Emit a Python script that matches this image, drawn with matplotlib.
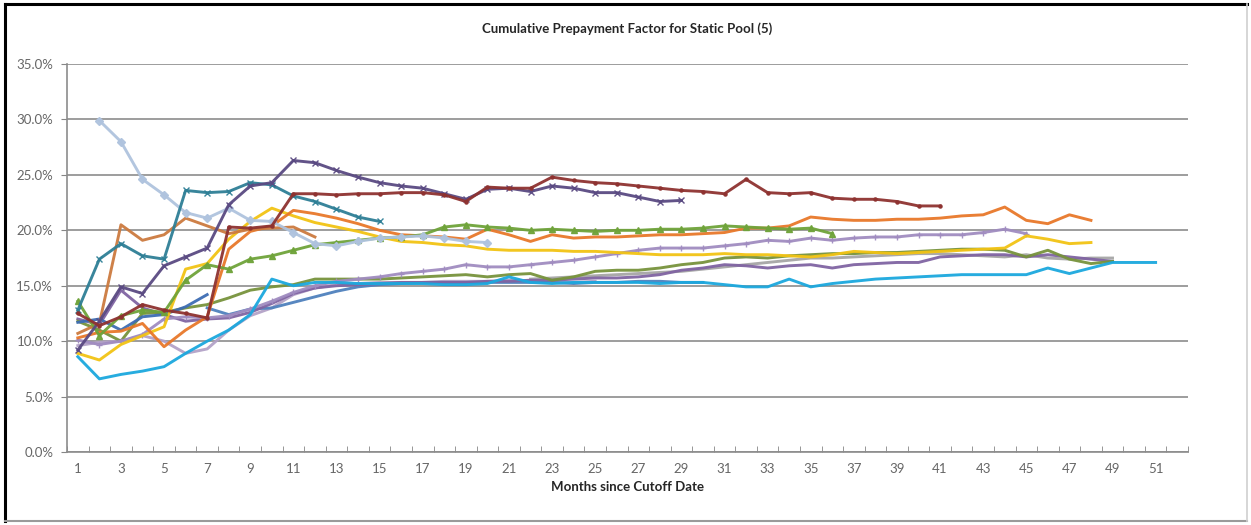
import numpy as np
import matplotlib.pyplot as plt
from matplotlib.patches import Rectangle
from matplotlib.ticker import FuncFormatter

# %% data: cumulative prepayment factor (%) by month since cutoff, one list per static pool
# each list starts at month 1 unless noted in the start dict
darkred = [12.5, 11.4, 12.2, 13.3, 12.8, 12.5, 12.1, 20.3, 20.2, 20.4, 23.3, 23.3, 23.2, 23.3, 23.3,
           23.4, 23.4, 23.2, 22.6, 23.9, 23.8, 23.8, 24.8, 24.5, 24.3, 24.2, 24.0, 23.8, 23.6, 23.5,
           23.3, 24.6, 23.4, 23.3, 23.4, 22.9, 22.8, 22.8, 22.6, 22.2, 22.2]
indigo = [9.2, 11.8, 14.9, 14.3, 16.8, 17.6, 18.4, 22.3, 24.0, 24.3, 26.3, 26.1, 25.4, 24.8, 24.3,
          24.0, 23.8, 23.3, 22.8, 23.7, 23.8, 23.5, 24.0, 23.8, 23.4, 23.4, 23.0, 22.6, 22.7]
teal = [12.8, 17.4, 18.8, 17.7, 17.4, 23.6, 23.4, 23.5, 24.3, 24.1, 23.1, 22.6, 21.9, 21.2, 20.8]
ltblue = [29.9, 28.0, 24.6, 23.2, 21.6, 21.1, 22.0, 20.9, 20.8, 19.8, 18.8, 18.6, 19.0, 19.3,
          19.4, 19.5, 19.3, 19.0, 18.9]
tan = [10.7, 11.6, 20.5, 19.1, 19.6, 21.1, 20.4, 19.7, 20.1, 20.2, 20.3, 19.4]
orange = [10.3, 10.8, 10.9, 11.6, 9.5, 11.0, 12.2, 18.3, 19.9, 20.4, 21.8, 21.5, 21.1, 20.6, 20.0,
          19.6, 19.5, 19.4, 19.2, 20.1, 19.6, 19.0, 19.6, 19.3, 19.4, 19.4, 19.5, 19.6, 19.6, 19.7,
          19.8, 20.2, 20.2, 20.4, 21.2, 21.0, 20.9, 20.9, 21.0, 21.0, 21.1, 21.3, 21.4, 22.1, 20.9,
          20.6, 21.4, 20.9]
yellow = [8.9, 8.3, 9.7, 10.5, 11.3, 16.5, 17.0, 19.2, 20.8, 22.0, 21.3, 20.7, 20.3, 19.9, 19.4,
          19.0, 18.9, 18.7, 18.6, 18.3, 18.2, 18.2, 18.2, 18.1, 18.1, 18.0, 17.9, 17.8, 17.8, 17.8,
          17.9, 17.8, 17.8, 17.7, 17.6, 17.8, 18.1, 18.0, 17.9, 18.0, 18.1, 18.2, 18.3, 18.4, 19.5,
          19.2, 18.8, 18.9]
green = [13.6, 10.5, 12.3, 12.8, 12.6, 15.5, 16.9, 16.5, 17.4, 17.7, 18.2, 18.7, 18.9, 19.1, 19.3,
         19.4, 19.6, 20.3, 20.5, 20.3, 20.2, 20.0, 20.1, 20.0, 19.9, 20.0, 20.0, 20.1, 20.1, 20.2,
         20.4, 20.3, 20.2, 20.1, 20.2, 19.7]
olive = [11.8, 11.0, 10.0, 12.5, 12.6, 13.0, 13.3, 13.9, 14.6, 14.9, 15.1, 15.6, 15.6, 15.6, 15.6,
         15.7, 15.8, 15.9, 16.0, 15.8, 16.0, 16.1, 15.5, 15.8, 16.3, 16.4, 16.4, 16.6, 16.9, 17.1,
         17.5, 17.6, 17.5, 17.7, 17.8, 17.9, 17.9, 18.0, 18.0, 18.1, 18.2, 18.3, 18.3, 18.2, 17.6,
         18.2, 17.4, 17.0, 17.2]
purple = [10.1, 9.7, 10.0, 10.6, 12.0, 12.2, 12.1, 12.3, 12.9, 13.6, 14.4, 15.0, 15.4, 15.6, 15.8,
          16.1, 16.3, 16.5, 16.9, 16.7, 16.7, 16.9, 17.1, 17.3, 17.6, 17.9, 18.2, 18.4, 18.4, 18.4,
          18.6, 18.8, 19.1, 19.0, 19.3, 19.1, 19.3, 19.4, 19.4, 19.6, 19.6, 19.6, 19.8, 20.1, 19.7]
violet = [12.0, 11.5, 14.6, 13.0, 12.4, 11.8, 12.0, 12.1, 12.6, 13.4, 14.3, 14.8, 15.0, 15.1, 15.2,
          15.3, 15.3, 15.3, 15.3, 15.4, 15.4, 15.5, 15.5, 15.6, 15.7, 15.7, 15.8, 16.0, 16.4, 16.6,
          16.9, 16.8, 16.6, 16.8, 16.9, 16.6, 16.9, 17.0, 17.1, 17.1, 17.6, 17.7, 17.8, 17.8, 17.6,
          17.8, 17.6, 17.4, 17.2]
lavender = [9.6, 9.9, 10.0, 10.5, 10.0, 8.9, 9.3, 11.0, 12.3, 13.0, 14.2, 14.8, 15.1, 15.2, 15.3,
            15.3, 15.3, 15.4, 15.4, 15.4, 15.5, 15.4, 15.3, 15.3, 15.4]
grey = [15.6, 15.7, 15.8, 15.9, 16.0, 16.1, 16.2, 16.3, 16.5, 16.7, 16.9, 17.1, 17.3, 17.5, 17.5,
        17.6, 17.7, 17.8, 17.9, 17.9, 17.8, 17.7, 17.6, 17.8, 17.5, 17.4, 17.5, 17.5]
steel = [11.7, 12.0, 11.0, 12.2, 12.4, 13.1, 14.2]
blue = [13.0, 12.4, 12.9, 13.0, 13.5, 14.0, 14.5, 14.9, 15.1, 15.2, 15.3, 15.3, 15.3, 15.3, 15.3,
        15.3, 15.3, 15.2, 15.3, 15.3, 15.4, 15.4, 15.3, 15.3]
cyan = [8.6, 6.6, 7.0, 7.3, 7.7, 8.9, 10.0, 11.0, 12.4, 15.6, 15.0, 15.3, 15.3, 15.2, 15.2,
        15.2, 15.2, 15.1, 15.1, 15.2, 15.8, 15.3, 15.2, 15.3, 15.3, 15.3, 15.3, 15.2, 15.3, 15.3,
        15.1, 14.9, 14.9, 15.6, 14.9, 15.2, 15.4, 15.6, 15.7, 15.8, 15.9, 16.0, 16.0, 16.0, 16.0,
        16.6, 16.1, 16.6, 17.1, 17.1, 17.1]

start = {'ltblue': 2, 'grey': 22, 'blue': 7}

pools = [
    ('grey', grey, '#A6A6A6', None),
    ('lavender', lavender, '#B3A2C7', None),
    ('blue', blue, '#4F81BD', None),
    ('violet', violet, '#8064A2', None),
    ('olive', olive, '#77933C', None),
    ('purple', purple, '#A08CC0', '+'),
    ('cyan', cyan, '#1BA8DE', None),
    ('steel', steel, '#3D6CB3', None),
    ('yellow', yellow, '#F2C314', None),
    ('orange', orange, '#E8782A', None),
    ('tan', tan, '#CC7A3F', None),
    ('green', green, '#6FA33A', '^'),
    ('ltblue', ltblue, '#AFC3DE', 'D'),
    ('teal', teal, '#2E7F96', 'x'),
    ('indigo', indigo, '#5A4A82', 'x'),
    ('darkred', darkred, '#8E3230', '.'),
]

# %% chart
plt.rcParams['font.family'] = ['Lato', 'DejaVu Sans']
fig = plt.figure(figsize=(12.51, 5.25), dpi=100)
ax = fig.add_axes([0.0536, 0.139, 0.896, 0.739])

for name, vals, col, mk in pools:
    s = start.get(name, 1)
    x = np.arange(s, s + len(vals))
    ax.plot(x, vals, color=col, lw=2.1, marker=mk, markersize=4 if mk != '.' else 4.5,
            markeredgewidth=1.0, solid_joinstyle='round', alpha=0.95)

ax.set_xlim(0.5, 52.5)
ax.set_ylim(0, 35)
ax.set_yticks(np.arange(0, 36, 5))
ax.yaxis.set_major_formatter(FuncFormatter(lambda v, p: f'{v:.1f}%'))
ax.set_xticks(np.arange(1, 52, 2))
ax.set_xticks(np.arange(0.5, 53, 1), minor=True)
ax.tick_params(axis='x', which='major', length=0, pad=8, labelsize=9.5, colors='#666666')
ax.tick_params(axis='x', which='minor', length=4, color='#868686', direction='in')
ax.tick_params(axis='y', length=4, color='#868686', labelsize=9.5, colors='#666666', pad=6)
ax.grid(axis='y', color='#8C8C8C', lw=1.2)
ax.set_axisbelow(True)
for sp in ['top', 'right']:
    ax.spines[sp].set_visible(False)
for sp in ['left', 'bottom']:
    ax.spines[sp].set_color('#8C8C8C')
    ax.spines[sp].set_linewidth(1.2)

ax.set_xlabel('Months since Cutoff Date', fontsize=9.5, fontweight='bold', color='#262626', labelpad=4)
fig.text(0.501, 0.945, 'Cumulative Prepayment Factor for Static Pool (5)', ha='center', va='center',
         fontsize=9.5, fontweight='bold', color='#262626')

# chart-area frame: heavy on top/left, light on right/bottom like the screenshot
fig.add_artist(plt.Line2D([0.004, 0.004], [0.008, 0.993], transform=fig.transFigure, color='black', lw=2.2))
fig.add_artist(plt.Line2D([0.004, 0.997], [0.993, 0.993], transform=fig.transFigure, color='black', lw=2.2))
fig.add_artist(plt.Line2D([0.004, 0.997], [0.008, 0.008], transform=fig.transFigure, color='#9A9A9A', lw=1.5))
fig.add_artist(plt.Line2D([0.997, 0.997], [0.008, 0.993], transform=fig.transFigure, color='#D0D0D0', lw=1.2))

fig.savefig('out.png', dpi=100)
